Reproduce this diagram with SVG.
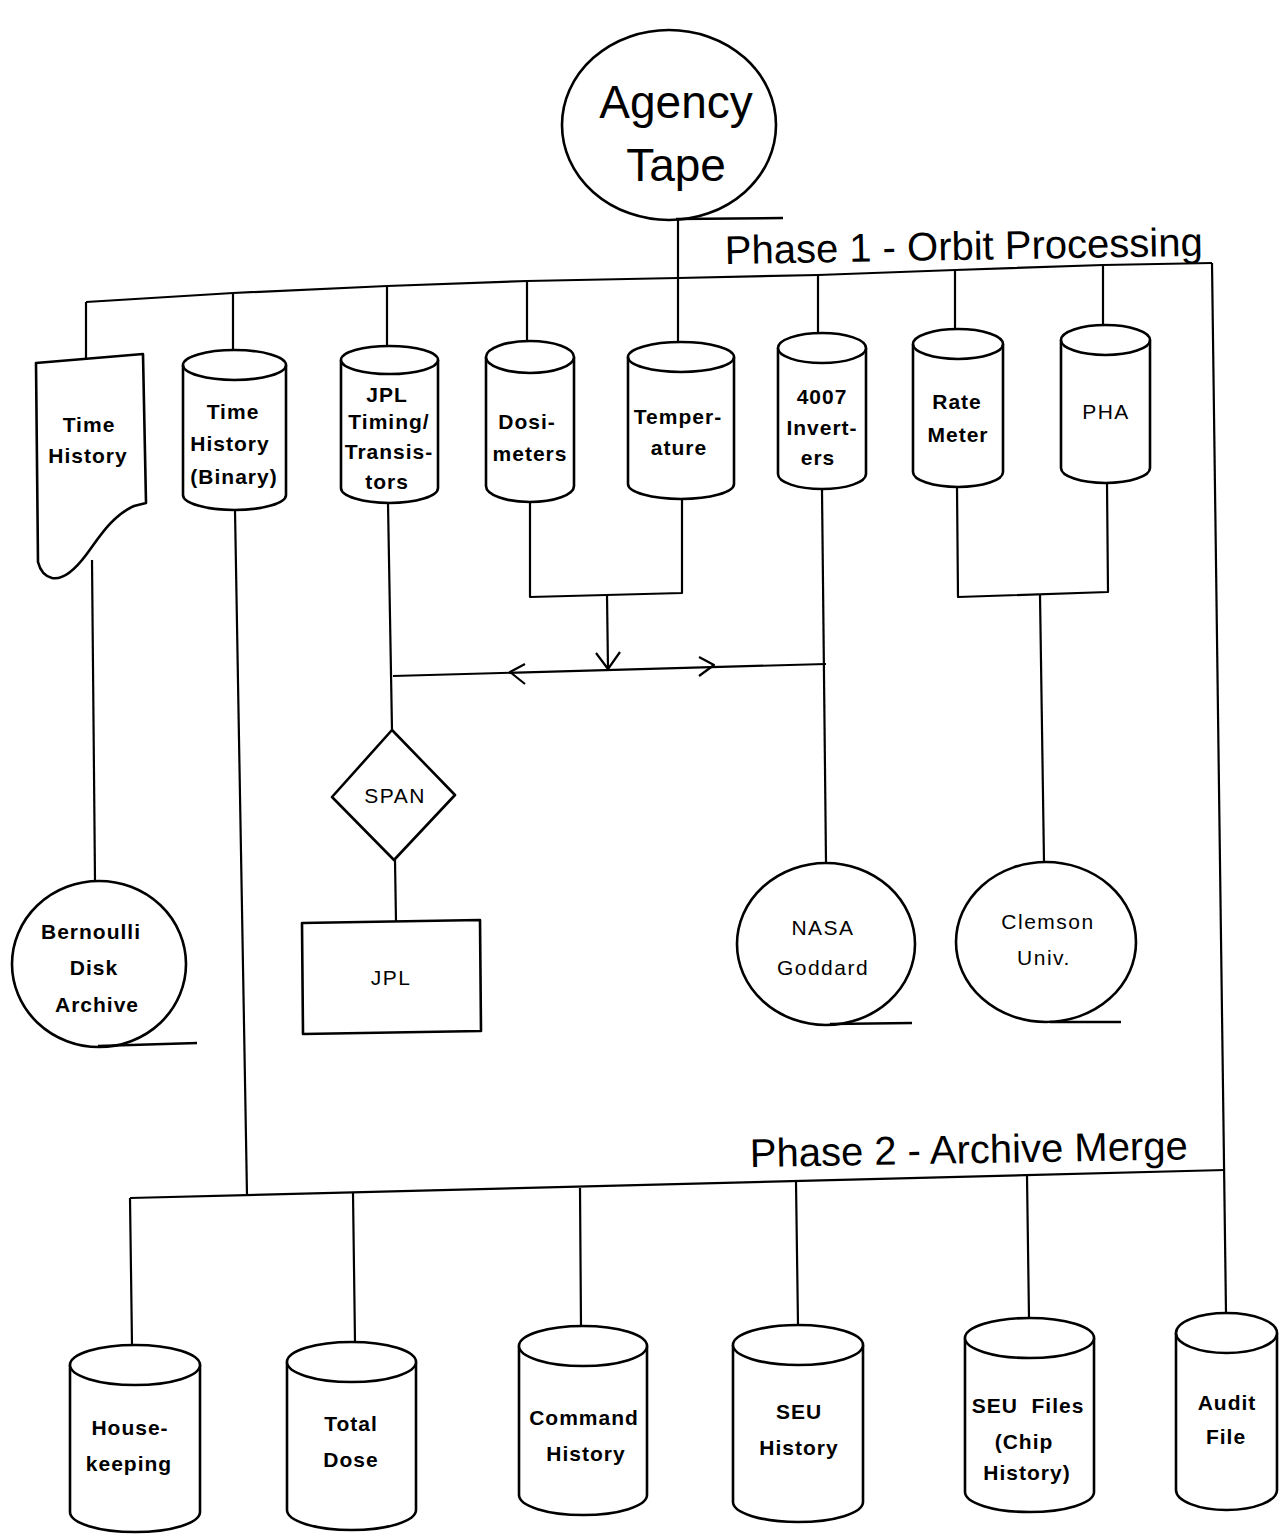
<svg xmlns="http://www.w3.org/2000/svg" width="1284" height="1536" viewBox="0 0 1284 1536">
  <style>
    .shape { fill: #ffffff; stroke: #000; stroke-width: 2.6; stroke-linejoin: round; }
    .wire { fill: none; stroke: #000; stroke-width: 2.2; stroke-linejoin: round; }
    .tail { fill: none; stroke: #000; stroke-width: 2.4; }
    .lb { font-family: "Liberation Sans", Arial, sans-serif; font-weight: bold; font-size: 21px; letter-spacing: 1px; text-anchor: middle; fill: #000; }
    .lr { font-family: "Liberation Sans", Arial, sans-serif; font-size: 21px; letter-spacing: 1.5px; text-anchor: middle; fill: #000; }
    .title { font-family: "Liberation Sans", Arial, sans-serif; font-size: 40px; fill: #000; }
    .big { font-family: "Liberation Sans", Arial, sans-serif; font-size: 46px; text-anchor: middle; fill: #000; }
  </style>
  <rect width="1284" height="1536" fill="#ffffff"/>

  <!-- connectors -->
  <g id="connectors">
    <path class="wire" d="M678,220 L678,342"/>
    <polyline class="wire" points="86,302 233,293 387,286 527,281 678,278 818,275 955,270 1103,265 1212,263"/>
    <path class="wire" d="M86,302 L86,360 M233,293 L233,350 M387,286 L387,346 M527,281 L527,341 M818,275 L818,333 M955,270 L955,329 M1103,265 L1103,325"/>
    <path class="wire" d="M1212,263 L1226,1313"/>
    <path class="wire" d="M92,560 L95,880"/>
    <path class="wire" d="M235,510 L247,1195"/>
    <path class="wire" d="M130,1198 L1225,1170"/>
    <path class="wire" d="M130,1198 L132,1345 M353,1193 L355,1342 M580,1188 L581,1327 M796,1182 L798,1325 M1027,1176 L1029,1318"/>
    <path class="wire" d="M388,503 L392,730"/>
    <path class="wire" d="M530,502 L530,597 L682,593 L682,500"/>
    <path class="wire" d="M607,595 L608,669"/>
    <path class="wire" d="M596,653 L608,669 L620,652"/>
    <path class="wire" d="M393,676 L826,664"/>
    <path class="wire" d="M525,664 L510,672 L525,684"/>
    <path class="wire" d="M699,657 L714,665 L699,676"/>
    <path class="wire" d="M822,490 L826,862"/>
    <path class="wire" d="M957,487 L958,597 L1108,592 L1107,483"/>
    <path class="wire" d="M1040,595 L1044,862"/>
    <path class="wire" d="M395,860 L396,922"/>
  </g>

  <!-- Agency Tape -->
  <g id="agency-tape">
    <ellipse class="shape" cx="669" cy="125" rx="107" ry="95"/>
    <path class="tail" d="M676,219 L783,218"/>
    <text class="big" x="676" y="118">Agency</text>
    <text class="big" x="676" y="181">Tape</text>
  </g>

  <g id="phase1-title">
    <text class="title" x="725" y="264" transform="rotate(-1 725 264)">Phase 1 - Orbit Processing</text>
  </g>

  <!-- Phase 1 outputs -->
  <g id="time-history">
    <path class="shape" d="M36,363 L143,354 L146,503 L134,506 C112,516 100,536 86,555 C74,571 62,580 52,578 C44,576 40,570 38,562 Z"/>
    <text class="lb" x="89" y="432">Time</text>
    <text class="lb" x="88" y="463">History</text>
  </g>

  <g id="time-history-binary">
    <path class="shape" d="M183,365 L183,495 A51.5,15 0 0 0 286,495 L286,365"/>
    <ellipse class="shape" cx="234.5" cy="365" rx="51.5" ry="15"/>
    <text class="lb" x="233" y="419">Time</text>
    <text class="lb" x="230" y="451">History</text>
    <text class="lb" x="234" y="484">(Binary)</text>
  </g>

  <g id="jpl-timing">
    <path class="shape" d="M341,360 L341,488 A48.5,15 0 0 0 438,488 L438,360"/>
    <ellipse class="shape" cx="389.5" cy="360" rx="48.5" ry="14"/>
    <text class="lb" x="387" y="402">JPL</text>
    <text class="lb" x="389" y="429">Timing/</text>
    <text class="lb" x="389" y="459">Transis-</text>
    <text class="lb" x="387" y="489">tors</text>
  </g>

  <g id="dosimeters">
    <path class="shape" d="M486,357 L486,486 A44,16 0 0 0 574,486 L574,357"/>
    <ellipse class="shape" cx="530" cy="357" rx="44" ry="16"/>
    <text class="lb" x="527" y="429">Dosi-</text>
    <text class="lb" x="530" y="461">meters</text>
  </g>

  <g id="temperature">
    <path class="shape" d="M628,357 L628,484 A53,15 0 0 0 734,484 L734,357"/>
    <ellipse class="shape" cx="681" cy="357" rx="53" ry="15"/>
    <text class="lb" x="678" y="424">Temper-</text>
    <text class="lb" x="679" y="455">ature</text>
  </g>

  <g id="inverters-4007">
    <path class="shape" d="M778,348 L778,474 A44,15 0 0 0 866,474 L866,348"/>
    <ellipse class="shape" cx="822" cy="348" rx="44" ry="15"/>
    <text class="lb" x="822" y="404">4007</text>
    <text class="lb" x="822" y="435">Invert-</text>
    <text class="lb" x="818" y="465">ers</text>
  </g>

  <g id="rate-meter">
    <path class="shape" d="M913,344 L913,472 A45,15 0 0 0 1003,472 L1003,344"/>
    <ellipse class="shape" cx="958" cy="344" rx="45" ry="15"/>
    <text class="lb" x="957" y="409">Rate</text>
    <text class="lb" x="958" y="442">Meter</text>
  </g>

  <g id="pha">
    <path class="shape" d="M1061,340 L1061,468 A44.5,15 0 0 0 1150,468 L1150,340"/>
    <ellipse class="shape" cx="1105.5" cy="340" rx="44.5" ry="15"/>
    <text class="lr" x="1106" y="419">PHA</text>
  </g>

  <!-- distribution -->
  <g id="span">
    <path class="shape" d="M392,730 L455,795 L394,860 L332,797 Z"/>
    <text class="lr" x="395" y="803">SPAN</text>
  </g>

  <g id="jpl">
    <path class="shape" d="M302,923 L480,920 L481,1031 L303,1034 Z"/>
    <text class="lr" x="391" y="985">JPL</text>
  </g>

  <g id="bernoulli">
    <ellipse class="shape" cx="99" cy="964" rx="87" ry="83"/>
    <path class="tail" d="M98,1046 L197,1043"/>
    <text class="lb" x="91" y="939">Bernoulli</text>
    <text class="lb" x="94" y="975">Disk</text>
    <text class="lb" x="97" y="1012">Archive</text>
  </g>

  <g id="nasa-goddard">
    <ellipse class="shape" cx="826" cy="944" rx="89" ry="81"/>
    <path class="tail" d="M830,1024 L912,1023"/>
    <text class="lr" x="823" y="935">NASA</text>
    <text class="lr" x="823" y="975">Goddard</text>
  </g>

  <g id="clemson">
    <ellipse class="shape" cx="1046" cy="942" rx="90" ry="80"/>
    <path class="tail" d="M1050,1022 L1121,1022"/>
    <text class="lr" x="1048" y="929">Clemson</text>
    <text class="lr" x="1044" y="965">Univ.</text>
  </g>

  <g id="phase2-title">
    <text class="title" x="750" y="1167" transform="rotate(-1 750 1167)">Phase 2 - Archive Merge</text>
  </g>

  <!-- Phase 2 outputs -->
  <g id="housekeeping">
    <path class="shape" d="M70,1365 L70,1512 A65,20 0 0 0 200,1512 L200,1365"/>
    <ellipse class="shape" cx="135" cy="1365" rx="65" ry="20"/>
    <text class="lb" x="130" y="1435">House-</text>
    <text class="lb" x="129" y="1471">keeping</text>
  </g>

  <g id="total-dose">
    <path class="shape" d="M287,1362 L287,1510 A64.5,20 0 0 0 416,1510 L416,1362"/>
    <ellipse class="shape" cx="351.5" cy="1362" rx="64.5" ry="20"/>
    <text class="lb" x="351" y="1431">Total</text>
    <text class="lb" x="351" y="1467">Dose</text>
  </g>

  <g id="command-history">
    <path class="shape" d="M519,1346 L519,1495 A64,20 0 0 0 647,1495 L647,1346"/>
    <ellipse class="shape" cx="583" cy="1346" rx="64" ry="20"/>
    <text class="lb" x="584" y="1425">Command</text>
    <text class="lb" x="586" y="1461">History</text>
  </g>

  <g id="seu-history">
    <path class="shape" d="M733,1345 L733,1502 A65,20 0 0 0 863,1502 L863,1345"/>
    <ellipse class="shape" cx="798" cy="1345" rx="65" ry="20"/>
    <text class="lb" x="799" y="1419">SEU</text>
    <text class="lb" x="799" y="1455">History</text>
  </g>

  <g id="seu-files">
    <path class="shape" d="M965,1338 L965,1492 A64.5,20 0 0 0 1094,1492 L1094,1338"/>
    <ellipse class="shape" cx="1029.5" cy="1338" rx="64.5" ry="20"/>
    <text class="lb" x="1028" y="1413" xml:space="preserve">SEU  Files</text>
    <text class="lb" x="1024" y="1449">(Chip</text>
    <text class="lb" x="1027" y="1480">History)</text>
  </g>

  <g id="audit-file">
    <path class="shape" d="M1176,1333 L1176,1490 A50.5,20 0 0 0 1277,1490 L1277,1333"/>
    <ellipse class="shape" cx="1226.5" cy="1333" rx="50.5" ry="20"/>
    <text class="lb" x="1227" y="1410">Audit</text>
    <text class="lb" x="1226" y="1444">File</text>
  </g>
</svg>
